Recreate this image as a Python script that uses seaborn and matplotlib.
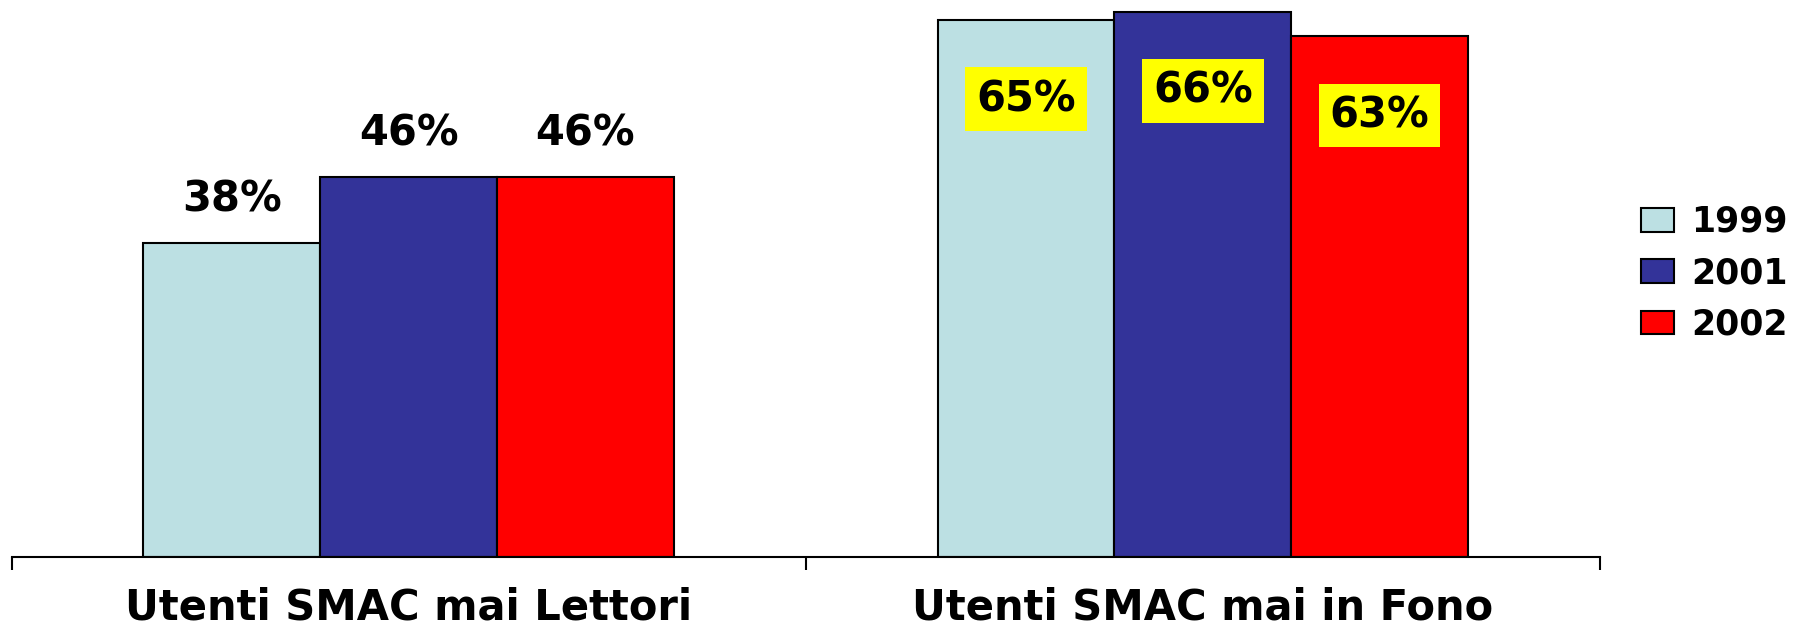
import pandas as pd
import numpy as np
import matplotlib
matplotlib.use("Agg")
import matplotlib.pyplot as plt
import seaborn as sns

categories = ["Utenti SMAC mai Lettori", "Utenti SMAC mai in Fono"]
years = ["1999", "2001", "2002"]
values_1999 = [38, 65]
values_2001 = [46, 66]
values_2002 = [46, 63]
colors = ["#BCE0E3", "#333399", "#FF0000"]

df = pd.DataFrame({
    "categoria": categories * 3,
    "anno": [y for y in years for _ in categories],
    "valore": values_1999 + values_2001 + values_2002,
})

sns.set_style("white")
plt.rcParams["font.family"] = ["DejaVu Sans"]
plt.rcParams["text.color"] = "black"
plt.rcParams["xtick.color"] = "black"

fig = plt.figure(figsize=(18.02, 6.27), dpi=100)
ax = fig.add_axes([0.0064, 0.1116, 0.8815, 0.8884])

sns.barplot(data=df, x="categoria", y="valore", hue="anno", order=categories,
            hue_order=years, palette=colors, saturation=1, width=0.668,
            edgecolor="black", linewidth=1.5, ax=ax)

ax.set_xlim(-0.5, 1.5)
ax.set_ylim(0, 67.4)
ax.set_xlabel("")
ax.set_ylabel("")
ax.set_yticks([])
for s in ["top", "right", "left"]:
    ax.spines[s].set_visible(False)
ax.spines["bottom"].set_linewidth(1.5)
ax.spines["bottom"].set_color("black")

# tacche ai confini delle categorie, etichette al centro
ax.set_xticks([-0.5, 0.5, 1.5])
ax.set_xticklabels(["", "", ""])
ax.tick_params(axis="x", which="major", direction="out", length=9, width=1.5, color="black", bottom=True)
ax.set_xticks([0, 1], minor=True)
ax.set_xticklabels(categories, minor=True, fontsize=30, fontweight="bold", color="black")
ax.tick_params(axis="x", which="minor", length=0, pad=21)

# etichette dei valori
for i, cont in enumerate(ax.containers):
    for j, bar in enumerate(cont):
        v = bar.get_height()
        x = bar.get_x() + bar.get_width() / 2
        if j == 0:
            ax.annotate(f"{v:.0f}%", (x, v), xytext=(0, 31), textcoords="offset points",
                        ha="center", va="center", fontsize=30, fontweight="bold", color="black")
        else:
            ax.annotate(f"{v:.0f}%", (x, v), xytext=(0, -57), textcoords="offset points",
                        ha="center", va="center", fontsize=30, fontweight="bold", color="black",
                        bbox=dict(boxstyle="square,pad=0.26", fc="#FFFF00", ec="none"))

handles, labels = ax.get_legend_handles_labels()
leg = ax.legend(handles, labels, loc="upper left", bbox_to_anchor=(1641 / 1802, 1 - 205 / 627),
                bbox_transform=fig.transFigure, frameon=False,
                prop={"weight": "bold", "size": 25}, borderpad=0, borderaxespad=0,
                handlelength=0.95, handleheight=0.68, handletextpad=0.5, labelspacing=0.5)
for t in leg.get_texts():
    t.set_color("black")

fig.savefig("out.png", dpi=100)
